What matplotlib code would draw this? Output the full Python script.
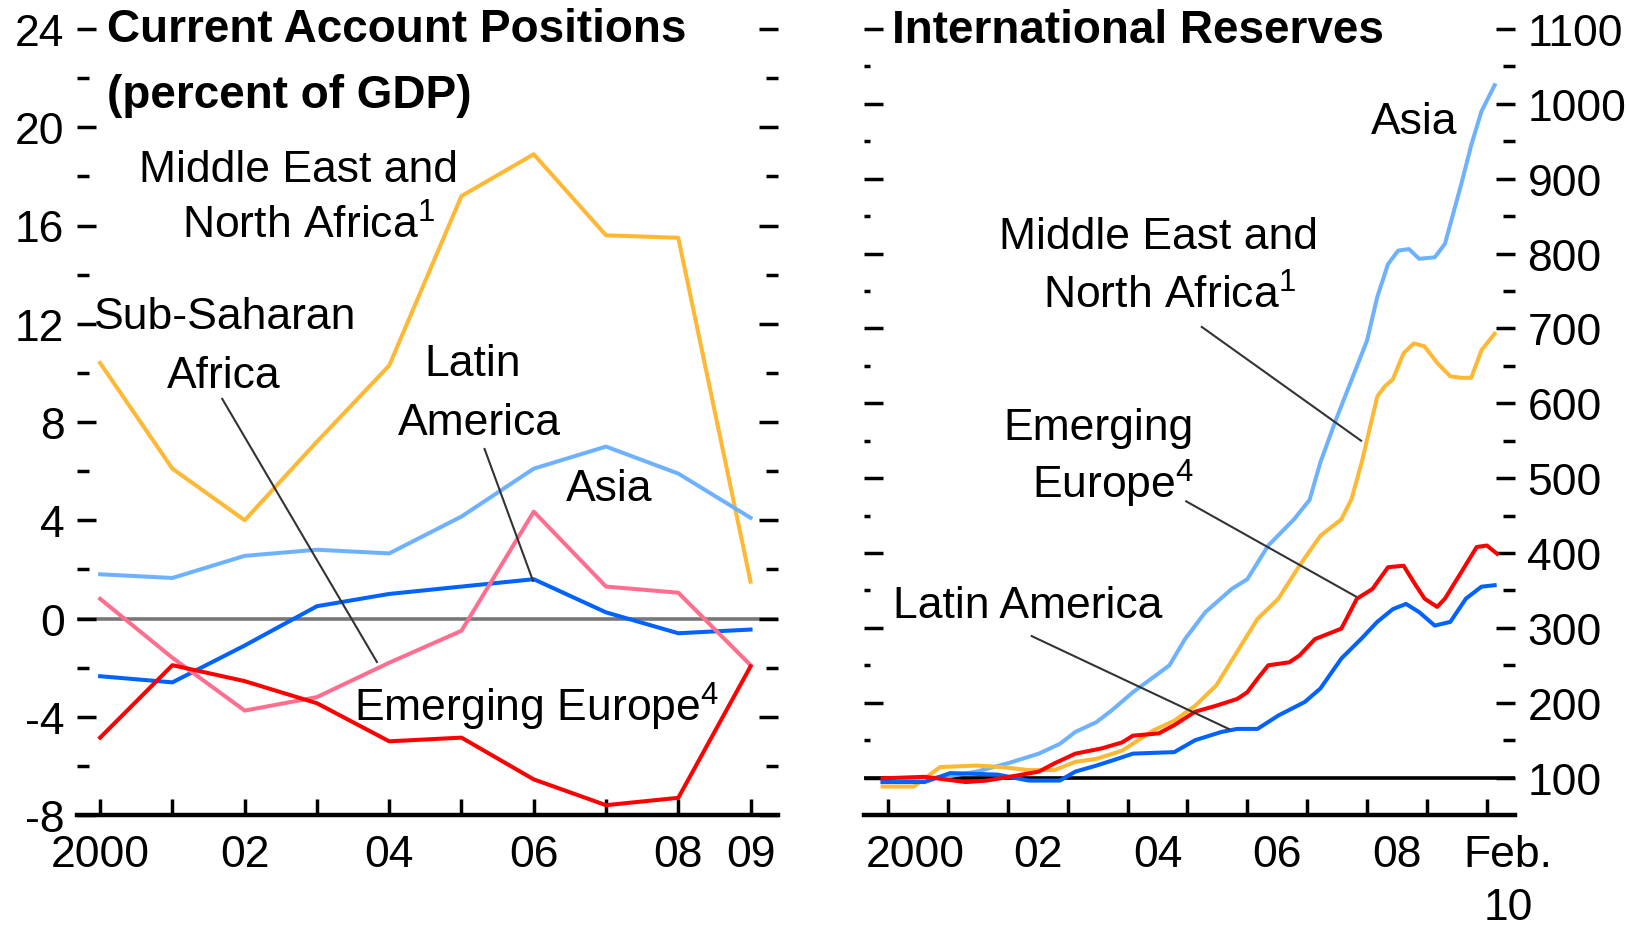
import matplotlib
matplotlib.use('Agg')
import matplotlib.pyplot as plt
from matplotlib.ticker import FixedLocator

plt.rcParams['font.family'] = ['Liberation Sans Narrow', 'Liberation Sans', 'DejaVu Sans']
plt.rcParams['mathtext.default'] = 'regular'
plt.rcParams['axes.unicode_minus'] = False

# ---- left panel: current account, percent of GDP (annual) ----
ca_years = [2000, 2001, 2002, 2003, 2004, 2005, 2006, 2007, 2008, 2009]
ca_mena = [10.4, 6.1, 4.0, 7.2, 10.3, 17.2, 18.9, 15.6, 15.5, 1.5]
ca_asia = [1.8, 1.65, 2.55, 2.8, 2.65, 4.15, 6.1, 7.0, 5.9, 4.1]
ca_latam = [-2.35, -2.6, -1.1, 0.5, 1.0, 1.3, 1.6, 0.25, -0.6, -0.45]
ca_ssa = [0.8, -1.6, -3.75, -3.2, -1.8, -0.5, 4.35, 1.3, 1.05, -1.9]
ca_eeur = [-4.85, -1.9, -2.55, -3.45, -5.0, -4.85, -6.55, -7.6, -7.3, -1.95]

ca_yticks = [-8, -4, 0, 4, 8, 12, 16, 20, 24]
ca_minor = [-6, -2, 2, 6, 10, 14, 18, 22]
ca_xlabels = ['2000', '', '02', '', '04', '', '06', '', '08', '09']

res_asia_t = [1999.91, 2000.96, 2001.48, 2002.00, 2002.52, 2002.87, 2003.13, 2003.48,
              2003.74, 2004.09, 2004.43, 2004.70, 2004.96, 2005.30, 2005.74, 2006.00,
              2006.35, 2006.78, 2007.04, 2007.22, 2007.48, 2007.74, 2008.00, 2008.17,
              2008.35, 2008.52, 2008.70, 2008.87, 2009.13, 2009.30, 2009.57, 2009.74,
              2009.91, 2010.13]
res_asia = [94, 101, 108, 119, 132, 145, 161, 174, 190, 214, 234, 250, 285, 321, 352, 365,
            410, 445, 471, 521, 578, 631, 684, 742, 786, 804, 806, 793, 795, 813, 892, 945,
            990, 1025]

res_mena_t = [1999.91, 2000.43, 2000.87, 2001.48, 2001.91, 2002.35, 2002.78, 2003.13,
              2003.48, 2003.91, 2004.43, 2004.78, 2005.13, 2005.48, 2005.83, 2006.17,
              2006.52, 2006.87, 2007.22, 2007.57, 2007.74, 2007.91, 2008.04, 2008.17,
              2008.30, 2008.43, 2008.61, 2008.78, 2008.96, 2009.17, 2009.39, 2009.57,
              2009.74, 2009.91, 2010.13]
res_mena = [88, 88, 114, 116, 114, 110, 110, 121, 125, 136, 163, 176, 196, 223, 268, 312,
            339, 383, 423, 445, 472, 521, 565, 609, 623, 632, 667, 680, 676, 654, 636, 634,
            634, 671, 693]

res_eeur_t = [1999.91, 2000.61, 2001.30, 2001.65, 2002.17, 2002.52, 2002.78, 2003.13,
              2003.57, 2003.91, 2004.09, 2004.52, 2004.78, 2005.13, 2005.48, 2005.83,
              2006.00, 2006.17, 2006.35, 2006.70, 2006.87, 2007.13, 2007.57, 2007.83,
              2008.09, 2008.35, 2008.61, 2008.78, 2008.96, 2009.17, 2009.30, 2009.57,
              2009.83, 2010.00, 2010.17]
res_eeur = [99, 101, 94, 96, 103, 108, 119, 132, 139, 147, 156, 159, 170, 188, 196, 205,
            214, 232, 250, 254, 263, 285, 299, 339, 352, 381, 383, 361, 339, 328, 339, 374,
            408, 410, 399]

res_latam_t = [1999.91, 2000.61, 2001.04, 2001.83, 2002.35, 2002.87, 2003.13, 2003.48,
               2003.83, 2004.09, 2004.78, 2005.13, 2005.57, 2005.83, 2006.17, 2006.52,
               2006.96, 2007.22, 2007.57, 2007.91, 2008.17, 2008.43, 2008.65, 2008.87,
               2009.13, 2009.39, 2009.65, 2009.91, 2010.13]
res_latam = [94, 94, 106, 104, 96, 96, 108, 116, 125, 132, 134, 150, 161, 165, 165, 183,
             201, 219, 259, 286, 308, 325, 332, 321, 303, 308, 339, 355, 357]

res_yticks = [100, 200, 300, 400, 500, 600, 700, 800, 900, 1000, 1100]
res_minor = [150, 250, 350, 450, 550, 650, 750, 850, 950, 1050]
res_xtick_years = [2000, 2001, 2002, 2003, 2004, 2005, 2006, 2007, 2008, 2009, 2010]
res_xlabel_pos = [2000.45, 2002.5, 2004.5, 2006.5, 2008.5, 2010.35]
res_xlabels = ['2000', '02', '04', '06', '08', 'Feb.\n10']

c_orange = '#FFB833'
c_ltblue = '#6EB2FF'
c_blue = '#0062FF'
c_pink = '#FF6E8E'
c_red = '#FF0000'
c_lead = '#333333'

fs = 32
lw = 2.9

fig = plt.figure(figsize=(16.31, 9.28), dpi=100)
ax1 = fig.add_axes([77 / 1631, 112 / 928, 701 / 1631, 786 / 928])
ax2 = fig.add_axes([864 / 1631, 112 / 928, 651 / 1631, 786 / 928])

for ax in (ax1, ax2):
    for s in ('left', 'right', 'top'):
        ax.spines[s].set_visible(False)
    ax.spines['bottom'].set_linewidth(3.2)
    ax.patch.set_alpha(0)

# left panel
ax1.axhline(0, color='#777777', lw=2.6, zorder=1)
ax1.plot(ca_years, ca_mena, color=c_orange, lw=lw)
ax1.plot(ca_years, ca_asia, color=c_ltblue, lw=lw)
ax1.plot(ca_years, ca_latam, color=c_blue, lw=lw)
ax1.plot(ca_years, ca_ssa, color=c_pink, lw=lw)
ax1.plot(ca_years, ca_eeur, color=c_red, lw=lw)
ax1.set_xlim(1999.68, 2009.38)
ax1.set_ylim(-8, 24)
ax1.set_yticks(ca_yticks)
ax1.set_yticklabels([str(v) for v in ca_yticks])
ax1.yaxis.set_minor_locator(FixedLocator(ca_minor))
ax1.tick_params(axis='y', which='major', direction='in', left=True, right=True,
                length=13.5, width=2.5, pad=9, labelsize=fs)
ax1.tick_params(axis='y', which='minor', direction='in', left=True, right=True,
                length=8.5, width=2.5)
ax1.set_xticks(ca_years)
ax1.set_xticklabels(ca_xlabels)
ax1.tick_params(axis='x', direction='in', length=11.5, width=2.5, pad=14, labelsize=fs)

ax1.text(2000.1, 24, 'Current Account Positions', fontsize=fs + 1, weight='bold',
         ha='left', va='center', clip_on=False)
ax1.text(2000.1, 21.3, '(percent of GDP)', fontsize=fs + 1, weight='bold',
         ha='left', va='center')
ax1.text(2002.75, 18.3, 'Middle East and', fontsize=fs, ha='center', va='center')
ax1.text(2002.89, 16.0, 'North Africa$^1$', fontsize=fs, ha='center', va='center')
ax1.text(2001.73, 12.3, 'Sub-Saharan', fontsize=fs, ha='center', va='center')
ax1.text(2001.71, 9.9, 'Africa', fontsize=fs, ha='center', va='center')
ax1.plot([2001.69, 2003.83], [8.94, -1.77], color=c_lead, lw=1.5)
ax1.text(2005.16, 10.4, 'Latin', fontsize=fs, ha='center', va='center')
ax1.text(2005.25, 7.96, 'America', fontsize=fs, ha='center', va='center')
ax1.plot([2005.32, 2005.99], [6.9, 1.53], color=c_lead, lw=1.5)
ax1.text(2007.05, 5.3, 'Asia', fontsize=fs, ha='center', va='center')
ax1.text(2006.04, -3.56, 'Emerging Europe$^4$', fontsize=fs, ha='center', va='center')

# right panel
ax2.axhline(100, color='black', lw=2.6, zorder=1)
ax2.plot(res_asia_t, res_asia, color=c_ltblue, lw=lw)
ax2.plot(res_mena_t, res_mena, color=c_orange, lw=lw)
ax2.plot(res_latam_t, res_latam, color=c_blue, lw=lw)
ax2.plot(res_eeur_t, res_eeur, color=c_red, lw=lw)
ax2.set_xlim(1999.60, 2010.47)
ax2.set_ylim(50, 1100)
ax2.set_yticks(res_yticks)
ax2.set_yticklabels([str(v) for v in res_yticks])
ax2.yaxis.set_minor_locator(FixedLocator(res_minor))
ax2.tick_params(axis='y', which='major', direction='in', left=True, right=True,
                labelleft=False, labelright=True, length=14, width=2.5, pad=9,
                labelsize=fs)
ax2.tick_params(axis='y', which='minor', direction='in', left=True, right=True,
                length=8.5, width=2.5)
ax2.set_xticks(res_xtick_years)
ax2.set_xticklabels([''] * len(res_xtick_years))
ax2.set_xticks(res_xlabel_pos, minor=True)
ax2.set_xticklabels(res_xlabels, minor=True, va='top', linespacing=1.35)
ax2.tick_params(axis='x', which='major', direction='in', length=11.5, width=2.5)
ax2.tick_params(axis='x', which='minor', length=0, pad=14, labelsize=fs)

ax2.text(2000.07, 1098, 'International Reserves', fontsize=fs + 1, weight='bold',
         ha='left', va='center', clip_on=False)
ax2.text(2008.78, 976, 'Asia', fontsize=fs, ha='center', va='center')
ax2.text(2004.51, 823, 'Middle East and', fontsize=fs, ha='center', va='center')
ax2.text(2004.71, 745, 'North Africa$^1$', fontsize=fs, ha='center', va='center')
ax2.plot([2005.24, 2007.90], [702, 550], color=c_lead, lw=1.5)
ax2.text(2003.52, 567, 'Emerging', fontsize=fs, ha='center', va='center')
ax2.text(2003.76, 493, 'Europe$^4$', fontsize=fs, ha='center', va='center')
ax2.plot([2004.98, 2007.81], [469, 342], color=c_lead, lw=1.5)
ax2.text(2002.33, 330, 'Latin America', fontsize=fs, ha='center', va='center')
ax2.plot([2002.40, 2005.69], [289, 165], color=c_lead, lw=1.5)

# short minor ticks on the left side of the reserves panel
for t in ax2.yaxis.get_minor_ticks():
    t.tick1line.set_markersize(4)

fig.savefig('out.png', dpi=100)
